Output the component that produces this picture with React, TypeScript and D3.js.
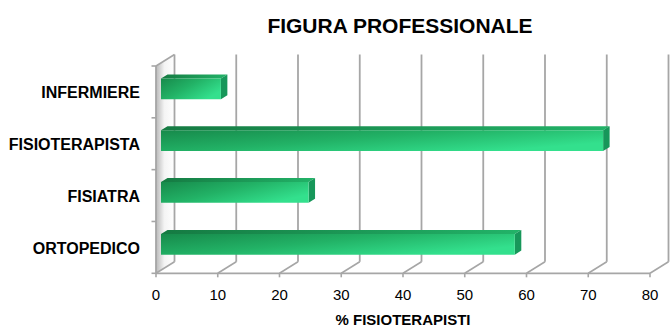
import React from "react";
import * as d3 from "d3";

// Professional figures and the share of physiotherapists (%) for each
const categories: string[] = ["INFERMIERE", "FISIOTERAPISTA", "FISIATRA", "ORTOPEDICO"];
const values: number[] = [9.7, 71.6, 23.9, 57.3];
const xTicks: number[] = [0, 10, 20, 30, 40, 50, 60, 70, 80];

const W = 670;
const H = 327;

// oblique projection of the depth axis
const DX = 18.5;
const DY = -11.5;
const D0 = 0.27; // bar front depth
const D1 = 0.62; // bar back depth

const FONT = "Liberation Sans, Arial, Helvetica, sans-serif";
const GRID = "#a6a6a6";

export default function App() {
  const x = d3.scaleLinear().domain([0, 80]).range([156, 650]);
  const top = 66;
  const bottom = 273.3;
  const y = d3
    .scaleBand<string>()
    .domain(categories)
    .range([top, bottom])
    .paddingInner(0.6)
    .paddingOuter(0.3);
  const step = y.step();
  const bounds = d3.range(categories.length + 1).map((i) => top + i * step);

  const p = (px: number, py: number, d: number) => `${px + d * DX},${py + d * DY}`;

  return (
    <svg
      width={W}
      height={H}
      style={{ position: "absolute", left: 0, top: 0, background: "#fff" }}
      fontFamily={FONT}
    >
      <defs>
        <linearGradient id="wall" x1="0" y1="0" x2="1" y2="0">
          <stop offset="0" stopColor="#b9b9b9" />
          <stop offset="0.45" stopColor="#f4f4f4" />
          <stop offset="1" stopColor="#ffffff" />
        </linearGradient>
        <linearGradient id="front" x1="0" y1="0" x2="1" y2="0.6">
          <stop offset="0" stopColor="#178a4b" />
          <stop offset="0.5" stopColor="#22b266" />
          <stop offset="1" stopColor="#33e08d" />
        </linearGradient>
        <linearGradient id="topFace" x1="0" y1="0" x2="1" y2="0">
          <stop offset="0" stopColor="#157a42" />
          <stop offset="1" stopColor="#22b368" />
        </linearGradient>
      </defs>

      <text x={400} y={33} textAnchor="middle" fontSize={21} fontWeight="bold" fill="#000">
        FIGURA PROFESSIONALE
      </text>

      {/* side wall */}
      <polygon
        points={[p(x(0), top, 0), p(x(0), bottom, 0), p(x(0), bottom, 1), p(x(0), top, 1)].join(" ")}
        fill="url(#wall)"
      />

      {/* back wall gridlines */}
      {xTicks.map((v) => (
        <line
          key={`g${v}`}
          x1={x(v) + DX}
          x2={x(v) + DX}
          y1={top + DY}
          y2={bottom + DY}
          stroke={GRID}
          strokeWidth={1.8}
        />
      ))}

      {/* floor lines */}
      {xTicks.map((v) => (
        <line
          key={`f${v}`}
          x1={x(v)}
          y1={bottom}
          x2={x(v) + DX}
          y2={bottom + DY}
          stroke={GRID}
          strokeWidth={1.6}
        />
      ))}
      <line x1={x(0)} x2={x(80)} y1={bottom} y2={bottom} stroke={GRID} strokeWidth={1.8} />
      {xTicks.map((v) => (
        <line key={`t${v}`} x1={x(v)} x2={x(v)} y1={bottom} y2={bottom + 4} stroke={GRID} strokeWidth={1.6} />
      ))}

      {/* wall edges and category ticks */}
      <line x1={x(0)} x2={x(0)} y1={top} y2={bottom} stroke={GRID} strokeWidth={1.8} />
      <line x1={x(0)} y1={top} x2={x(0) + DX} y2={top + DY} stroke={GRID} strokeWidth={1.6} />
      {bounds.map((b, i) => (
        <line key={`c${i}`} x1={x(0) - 4.5} x2={x(0)} y1={b} y2={b} stroke={GRID} strokeWidth={1.6} />
      ))}

      {/* bars */}
      {categories.map((c, i) => {
        const yt = y(c)!;
        const yb = yt + y.bandwidth();
        const x0 = x(0);
        const xv = x(values[i]);
        return (
          <g key={c}>
            <polygon
              points={[p(x0, yt, D0), p(xv, yt, D0), p(xv, yt, D1), p(x0, yt, D1)].join(" ")}
              fill="url(#topFace)"
            />
            <polygon
              points={[p(xv, yt, D0), p(xv, yt, D1), p(xv, yb, D1), p(xv, yb, D0)].join(" ")}
              fill="#17975a"
            />
            <polygon
              points={[p(x0, yt, D0), p(xv, yt, D0), p(xv, yb, D0), p(x0, yb, D0)].join(" ")}
              fill="url(#front)"
            />
          </g>
        );
      })}

      {/* category labels */}
      {categories.map((c) => (
        <text
          key={`l${c}`}
          x={140}
          y={y(c)! + y.bandwidth() / 2 + 1}
          textAnchor="end"
          dominantBaseline="central"
          fontSize={16}
          fontWeight="bold"
          fill="#000"
        >
          {c}
        </text>
      ))}

      {/* value tick labels */}
      {xTicks.map((v) => (
        <text key={`v${v}`} x={x(v)} y={300} textAnchor="middle" fontSize={15} fill="#000">
          {v}
        </text>
      ))}

      <text x={403} y={325} textAnchor="middle" fontSize={15} fontWeight="bold" fill="#000">
        % FISIOTERAPISTI
      </text>
    </svg>
  );
}
